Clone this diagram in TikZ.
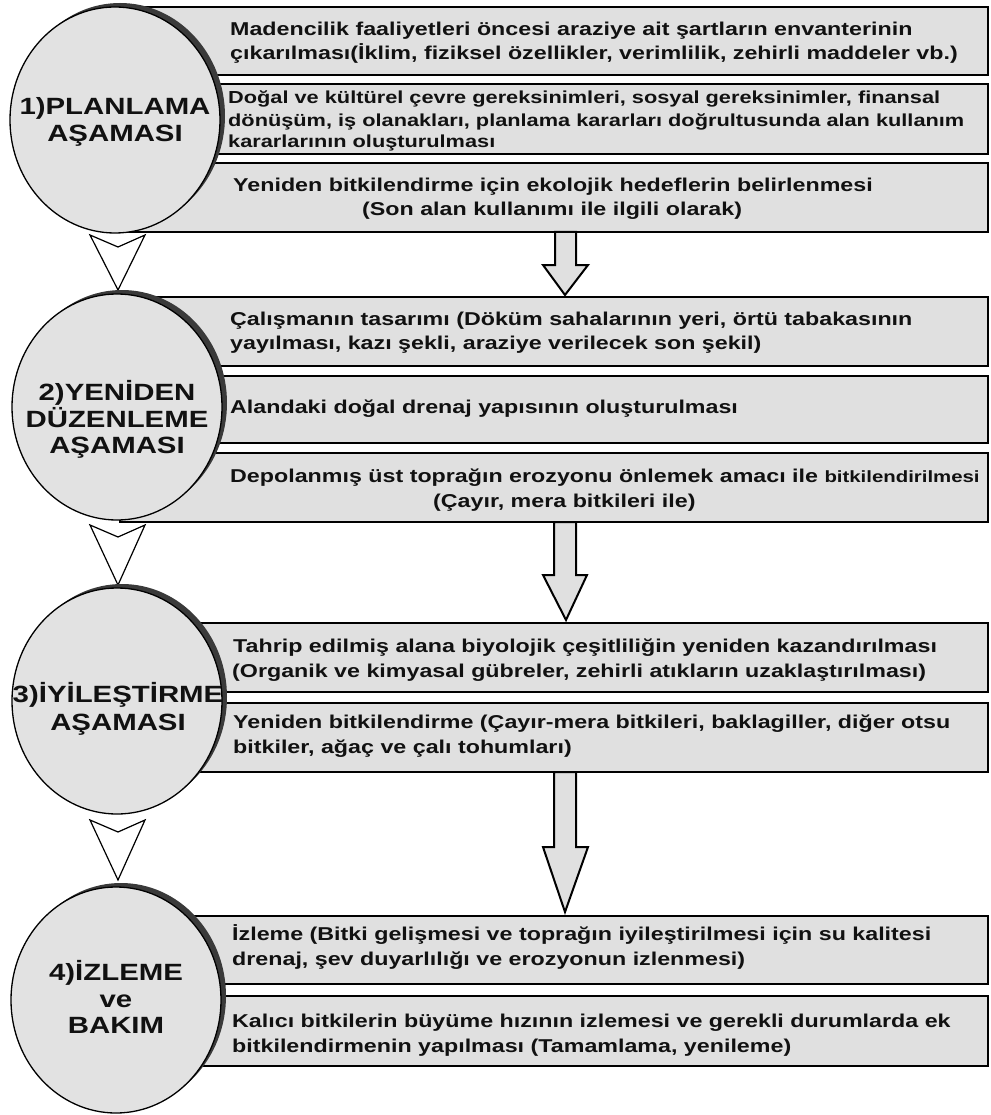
\documentclass[tikz,border=0pt]{standalone}
\usepackage{fontspec}
\setmainfont{Liberation Sans}[FakeStretch=1.25]
\definecolor{boxfill}{HTML}{E0E0E0}
\definecolor{circfill}{HTML}{E2E2E2}
\definecolor{shadowc}{HTML}{3A3A3A}
\definecolor{txt}{HTML}{111111}
\tikzset{
  boxst/.style={draw=black, line width=1.5pt, fill=boxfill},
  circst/.style={draw=black, line width=1.3pt, fill=circfill},
  shadst/.style={fill=shadowc},
  chevst/.style={draw=black, line width=1.2pt, fill=white, line join=miter},
  bigarr/.style={draw=black, line width=2pt, fill=boxfill, line join=miter},
  tl/.style={anchor=base west, inner sep=0pt, text=txt, font=\bfseries\fontsize{18.6}{23}\selectfont},
  tls/.style={tl, font=\bfseries\fontsize{17.4}{21}\selectfont},
  cl/.style={anchor=base, inner sep=0pt, text=txt, font=\bfseries\fontsize{23.5}{27}\selectfont},
}
\newcommand\tline[4]{\node[tl] (#1) at (#2,#3) {#4};}
\newcommand\tlines[4]{\node[tls] (#1) at (#2,#3) {#4};}
\newcommand\cirline[4]{\node[cl] (#1) at (#2,#3) {#4};}
\newcommand\stage[3]{%
  \fill[shadst] (#2+5,#3-4) ellipse [x radius=105, y radius=113];
  \draw[circst] (#2,#3) ellipse [x radius=105, y radius=113];
  \coordinate (#1) at (#2,#3);}
\begin{document}
\begin{tikzpicture}[x=1pt,y=-1pt]
\useasboundingbox (0,0) rectangle (990,1115);
\fill[white] (0,0) rectangle (990,1115);
% boxes
\draw[boxst] (120,7) rectangle (988,75);
\draw[boxst] (120,84) rectangle (988,154);
\draw[boxst] (120,163) rectangle (988,232);
\draw[boxst] (120,297) rectangle (988,366);
\draw[boxst] (120,376) rectangle (988,443);
\draw[boxst] (120,453) rectangle (988,522);
\draw[boxst] (120,623) rectangle (988,692);
\draw[boxst] (120,703) rectangle (988,772);
\draw[boxst] (120,916) rectangle (988,984);
\draw[boxst] (120,996) rectangle (988,1066);
% big arrows
\draw[bigarr] (555,232) -- (576,232) -- (576,265) -- (588,265) -- (565,295) -- (543,265) -- (555,265) -- cycle;
\draw[bigarr] (554,522) -- (576,522) -- (576,575) -- (587,575) -- (566,620) -- (543,575) -- (554,575) -- cycle;
\draw[bigarr] (554,772) -- (576,772) -- (576,847) -- (588,847) -- (565,912) -- (543,847) -- (554,847) -- cycle;
% chevrons
\draw[chevst] (90,235) -- (118,247) -- (145,235) -- (118,290) -- cycle;
\draw[chevst] (90,525) -- (118,537) -- (145,525) -- (118,585) -- cycle;
\draw[chevst] (90,820) -- (118,832) -- (145,820) -- (118,880) -- cycle;
% circles
\stage{s1}{115}{120}
\stage{s2}{117}{407}
\stage{s3}{117}{701}
\stage{s4}{116}{1000}
% circle texts
\cirline{c1a}{115}{115}{1)PLANLAMA}
\cirline{c1b}{115}{142}{AŞAMASI}
\cirline{c2a}{117}{400}{2)YENİDEN}
\cirline{c2b}{117}{427}{DÜZENLEME}
\cirline{c2c}{117}{453}{AŞAMASI}
\cirline{c3a}{118}{702}{3)İYİLEŞTİRME}
\cirline{c3b}{118}{730}{AŞAMASI}
\cirline{c4a}{116}{980}{4)İZLEME}
\cirline{c4b}{116}{1007}{ve}
\cirline{c4c}{116}{1033}{BAKIM}
% box texts
\tline{t1a1}{230}{36}{Madencilik faaliyetleri öncesi araziye ait şartların envanterinin}
\tline{t1a2}{230}{60}{çıkarılması(İklim, fiziksel özellikler, verimlilik, zehirli maddeler vb.)}
\tlines{t1b1}{228}{104}{Doğal ve kültürel çevre gereksinimleri, sosyal gereksinimler, finansal}
\tlines{t1b2}{228}{127}{dönüşüm, iş olanakları, planlama kararları doğrultusunda alan kullanım}
\tlines{t1b3}{228}{148}{kararlarının oluşturulması}
\tline{t1c1}{233}{192}{Yeniden bitkilendirme için ekolojik hedeflerin belirlenmesi}
\tline{t1c2}{362}{215}{(Son alan kullanımı ile ilgili olarak)}
\tline{t2a1}{230}{325}{Çalışmanın tasarımı (Döküm sahalarının yeri, örtü tabakasının}
\tline{t2a2}{230}{349}{yayılması, kazı şekli, araziye verilecek son şekil)}
\tline{t2b1}{230}{413}{Alandaki doğal drenaj yapısının oluşturulması}
\tline{t2c1}{230}{482}{Depolanmış üst toprağın erozyonu önlemek amacı ile {\fontsize{16.3}{19}\selectfont bitkilendirilmesi}}
\tline{t2c2}{433}{507}{(Çayır, mera bitkileri ile)}
\tline{t3a1}{233}{652}{Tahrip edilmiş alana biyolojik çeşitliliğin yeniden kazandırılması}
\tline{t3a2}{232}{677}{(Organik ve kimyasal gübreler, zehirli atıkların uzaklaştırılması)}
\tline{t3b1}{233}{728}{Yeniden bitkilendirme (Çayır-mera bitkileri, baklagiller, diğer otsu}
\tline{t3b2}{233}{753}{bitkiler, ağaç ve çalı tohumları)}
\tline{t4a1}{232}{940}{İzleme (Bitki gelişmesi ve toprağın iyileştirilmesi için su kalitesi}
\tline{t4a2}{232}{965}{drenaj, şev duyarlılığı ve erozyonun izlenmesi)}
\tline{t4b1}{232}{1027}{Kalıcı bitkilerin büyüme hızının izlemesi ve gerekli durumlarda ek}
\tline{t4b2}{232}{1052}{bitkilendirmenin yapılması (Tamamlama, yenileme)}
\end{tikzpicture}
\end{document}
